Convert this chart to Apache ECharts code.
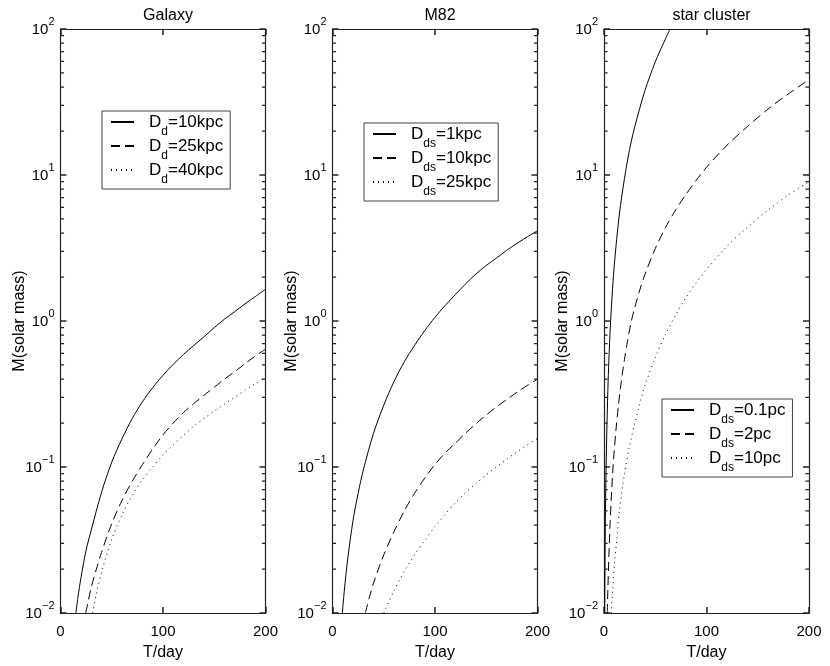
<!DOCTYPE html>
<html>
<head>
<meta charset="utf-8">
<script src="https://cdn.jsdelivr.net/npm/echarts@6/dist/echarts.min.js"></script>
<style>
  html, body { margin: 0; padding: 0; background: #fff; }
  #chart { width: 830px; height: 666px; }
</style>
</head>
<body>
<div id="chart"></div>
<script>
// panel titles
const panelTitles = ['Galaxy', 'M82', 'star cluster']

// legend names, one list per panel
const galaxyNames = ['D_d=10kpc', 'D_d=25kpc', 'D_d=40kpc']
const m82Names = ['D_ds=1kpc', 'D_ds=10kpc', 'D_ds=25kpc']
const clusterNames = ['D_ds=0.1pc', 'D_ds=2pc', 'D_ds=10pc']

// [T(day), M(solar mass)]
const galaxy10 = [[15, 0.01], [17, 0.0128], [20, 0.0175], [25, 0.027], [30, 0.037], [40, 0.067], [50, 0.108], [60, 0.156], [70, 0.215], [80, 0.28], [90, 0.35], [100, 0.425], [110, 0.505], [120, 0.59], [130, 0.68], [140, 0.78], [150, 0.9], [160, 1.03], [170, 1.16], [180, 1.31], [190, 1.47], [200, 1.65]]
const galaxy25 = [[24.6, 0.01], [27, 0.012], [30, 0.015], [35, 0.02], [40, 0.026], [50, 0.041], [60, 0.059], [70, 0.08], [80, 0.104], [90, 0.133], [100, 0.166], [110, 0.2], [120, 0.236], [130, 0.272], [140, 0.31], [150, 0.352], [160, 0.4], [170, 0.45], [180, 0.51], [190, 0.575], [200, 0.64]]
const galaxy40 = [[31.4, 0.01], [35, 0.0135], [40, 0.019], [50, 0.032], [60, 0.047], [70, 0.064], [80, 0.082], [90, 0.1], [100, 0.121], [110, 0.142], [120, 0.165], [130, 0.19], [140, 0.215], [150, 0.242], [160, 0.27], [170, 0.3], [180, 0.335], [190, 0.372], [200, 0.41]]

const m82_1 = [[9.6, 0.01], [11, 0.013], [13, 0.018], [15, 0.024], [20, 0.043], [25, 0.066], [30, 0.095], [40, 0.17], [50, 0.265], [60, 0.385], [70, 0.525], [80, 0.68], [90, 0.86], [100, 1.06], [110, 1.28], [120, 1.52], [130, 1.8], [140, 2.1], [150, 2.4], [160, 2.7], [170, 3.05], [180, 3.4], [190, 3.77], [200, 4.15]]
const m82_10 = [[32, 0.01], [36, 0.0128], [40, 0.016], [50, 0.025], [60, 0.036], [70, 0.05], [80, 0.066], [90, 0.084], [100, 0.104], [110, 0.125], [120, 0.146], [130, 0.171], [140, 0.198], [150, 0.227], [160, 0.258], [170, 0.29], [180, 0.325], [190, 0.362], [200, 0.40]]
const m82_25 = [[50, 0.01], [60, 0.0142], [70, 0.0193], [80, 0.025], [90, 0.0315], [100, 0.039], [110, 0.0475], [120, 0.057], [130, 0.067], [140, 0.077], [150, 0.0885], [160, 0.1], [170, 0.113], [180, 0.127], [190, 0.142], [200, 0.157]]

const cluster01 = [[0.65, 0.01], [1, 0.024], [1.5, 0.054], [2, 0.095], [3, 0.21], [4, 0.38], [5, 0.6], [7, 1.17], [10, 2.4], [15, 5.4], [20, 9.5], [25, 15], [30, 21.4], [40, 38], [50, 59.5], [60, 85.7], [64.5, 100]]
const cluster2 = [[3.2, 0.01], [4, 0.0166], [5, 0.0275], [6, 0.0417], [7, 0.059], [8.8, 0.1], [10, 0.13], [12, 0.19], [14, 0.261], [16, 0.345], [18, 0.44], [20, 0.547], [23, 0.734], [26.7, 1.0], [30, 1.236], [35, 1.64], [40, 2.09], [50, 3.13], [60, 4.37], [70, 5.78], [80, 7.37], [90, 9.2], [100, 11.3], [120, 16], [140, 21.5], [160, 28.3], [180, 36], [200, 45]]
const cluster10 = [[7, 0.01], [8.5, 0.0145], [10, 0.021], [12.5, 0.032], [15, 0.05], [20, 0.09], [25, 0.14], [30, 0.2], [40, 0.36], [50, 0.56], [60, 0.81], [70, 1.1], [80, 1.45], [90, 1.83], [100, 2.25], [120, 3.25], [140, 4.4], [160, 5.75], [180, 7.3], [200, 9.0]]

const panelData = [
    [galaxy10, galaxy25, galaxy40],
    [m82_1, m82_10, m82_25],
    [cluster01, cluster2, cluster10]
]
const panelNames = [galaxyNames, m82Names, clusterNames]

const FONT = 'Liberation Sans, Arial, Helvetica, sans-serif'
const gridLeft = [60.5, 332.5, 604]
const gridW = 205
const gridTop = 29
const gridH = 591
const legendPos = [
    { left: 102, top: 111 },
    { left: 364, top: 123 },
    { left: 662, top: 399 }
]
const dashTypes = ['solid', [9, 5], [1, 4]]

// minor tick positions 2..9 x 10^k
const minorTicks = []
for (let k = -2; k < 2; k++) {
    for (let m = 2; m <= 9; m++) {
        minorTicks.push(+(m * Math.pow(10, k)).toPrecision(3))
    }
}

// short segments at both frame sides, broken by empty points
const minorTickSegments = []
minorTicks.forEach(function (v) {
    minorTickSegments.push([0, v], [3.5, v], ['-', '-'])
    minorTickSegments.push([196.5, v], [200, v], ['-', '-'])
})

function expLabel(v) {
    const e = Math.round(Math.log10(v))
    return '{b|10}{s|' + (e < 0 ? '\u2212' + (-e) : e) + '}'
}

function legendLabel(name) {
    const parts = name.split('=')
    const sub = parts[0].split('_')[1]
    return '{m|D}{s|' + sub + '}{m|=' + parts[1] + '}'
}

const frameColor = '#222'
const majorTick = { show: true, inside: true, length: 6, lineStyle: { color: frameColor, width: 1.5 } }

const grids = []
const xAxes = []
const yAxes = []
const series = []
const legends = []
const titles = []

panelTitles.forEach(function (t, i) {
    grids.push({ left: gridLeft[i], top: gridTop, width: gridW, height: gridH })
    titles.push({
        text: t,
        left: gridLeft[i] + gridW / 2,
        top: 3,
        textAlign: 'center',
        textStyle: { fontFamily: FONT, fontSize: 16, fontWeight: 'normal', color: '#000' }
    })
    // bottom x axis with labels
    xAxes.push({
        type: 'value', gridIndex: i, min: 0, max: 200, interval: 100,
        position: 'bottom',
        name: 'T/day', nameLocation: 'middle', nameGap: 32, nameMoveOverlap: false,
        nameTextStyle: { fontFamily: FONT, fontSize: 16, color: '#000' },
        axisLine: { show: true, onZero: false, lineStyle: { color: frameColor, width: 1.2 } },
        axisTick: majorTick,
        axisLabel: { fontFamily: FONT, fontSize: 15, color: '#000', margin: 11 },
        splitLine: { show: false }
    })
    // top mirror
    xAxes.push({
        type: 'value', gridIndex: i, min: 0, max: 200, interval: 100,
        position: 'top',
        axisLine: { show: true, onZero: false, lineStyle: { color: frameColor, width: 1.2 } },
        axisTick: majorTick,
        axisLabel: { show: false },
        splitLine: { show: false }
    })
    // left log axis with labels
    yAxes.push({
        type: 'log', gridIndex: i, min: 0.01, max: 100, logBase: 10, splitNumber: 4,
        position: 'left',
        name: 'M(solar mass)', nameLocation: 'middle', nameGap: 33, nameMoveOverlap: false,
        nameTextStyle: { fontFamily: FONT, fontSize: 16, color: '#000' },
        axisLine: { show: true, onZero: false, lineStyle: { color: frameColor, width: 1.2 } },
        axisTick: majorTick,
        axisLabel: {
            margin: 6,
            formatter: expLabel,
            rich: {
                b: { fontFamily: FONT, fontSize: 15, color: '#000', lineHeight: 16, verticalAlign: 'bottom' },
                s: { fontFamily: FONT, fontSize: 11, color: '#000', lineHeight: 11, padding: [0, 0, 10, 0], verticalAlign: 'bottom' }
            }
        },
        splitLine: { show: false }
    })
    // right mirror
    yAxes.push({
        type: 'log', gridIndex: i, min: 0.01, max: 100, logBase: 10, splitNumber: 4,
        position: 'right',
        axisLine: { show: true, onZero: false, lineStyle: { color: frameColor, width: 1.2 } },
        axisTick: majorTick,
        axisLabel: { show: false },
        splitLine: { show: false }
    })

    panelData[i].forEach(function (d, j) {
        series.push({
            name: panelNames[i][j],
            type: 'line',
            xAxisIndex: 2 * i,
            yAxisIndex: 2 * i,
            data: d,
            smooth: 0.3,
            symbol: 'none',
            showSymbol: false,
            clip: true,
            lineStyle: { color: '#000', width: 1, type: dashTypes[j] },
            itemStyle: { color: '#000', opacity: 0 }
        })
    })

    // minor log ticks, drawn through the same axes
    series.push({
        type: 'line',
        xAxisIndex: 2 * i,
        yAxisIndex: 2 * i,
        data: minorTickSegments,
        connectNulls: false,
        smooth: false,
        symbol: 'none',
        showSymbol: false,
        silent: true,
        lineStyle: { color: frameColor, width: 1.2 },
        itemStyle: { opacity: 0 },
        z: 5
    })

    legends.push({
        data: panelNames[i],
        orient: 'vertical',
        left: legendPos[i].left,
        top: legendPos[i].top,
        padding: [3, 7, 3, 8],
        itemWidth: 23,
        itemHeight: 14,
        itemGap: 0,
        borderColor: '#444',
        borderWidth: 1,
        backgroundColor: '#fff',
        selectedMode: false,
        itemStyle: { opacity: 0 },
        formatter: legendLabel,
        textStyle: {
            padding: [0, 0, 0, 10],
            rich: {
                m: { fontFamily: FONT, fontSize: 17, color: '#000', lineHeight: 16, verticalAlign: 'top' },
                s: { fontFamily: FONT, fontSize: 12, color: '#000', lineHeight: 12, padding: [12, 0, 0, 0], verticalAlign: 'top' }
            }
        }
    })
})

const chart = echarts.init(document.getElementById('chart'))
chart.setOption({
    animation: false,
    backgroundColor: '#fff',
    title: titles,
    grid: grids,
    xAxis: xAxes,
    yAxis: yAxes,
    legend: legends,
    series: series
})
</script>
</body>
</html>
